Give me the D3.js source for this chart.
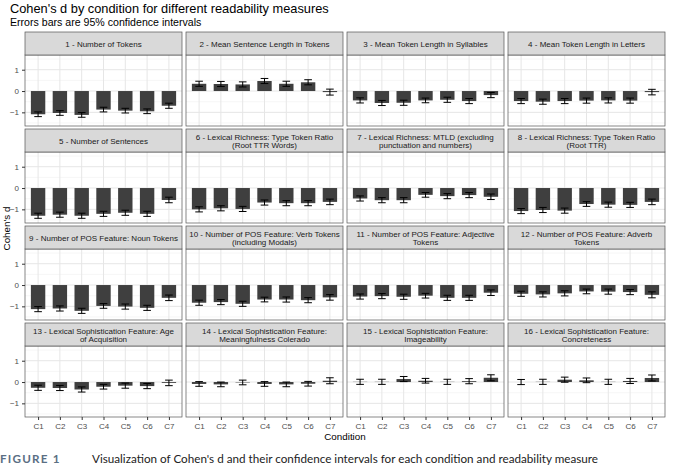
<!DOCTYPE html>
<html>
<head>
<meta charset="utf-8">
<script src="https://cdn.jsdelivr.net/npm/d3@7"></script>
<style>
  body { margin: 0; background: #fff; }
  svg { display: block; font-family: "Liberation Sans", Arial, sans-serif; }
</style>
</head>
<body>
<svg id="chart"></svg>
<script>
const width = 686;
const height = 467;

const conditions = ["C1", "C2", "C3", "C4", "C5", "C6", "C7"];

const measures = [
  ["1 - Number of Tokens"],
  ["2 - Mean Sentence Length in Tokens"],
  ["3 - Mean Token Length in Syllables"],
  ["4 - Mean Token Length in Letters"],
  ["5 - Number of Sentences"],
  ["6 - Lexical Richness: Type Token Ratio", "(Root TTR Words)"],
  ["7 - Lexical Richness: MTLD (excluding", "punctuation and numbers)"],
  ["8 - Lexical Richness: Type Token Ratio", "(Root TTR)"],
  ["9 - Number of POS Feature: Noun Tokens"],
  ["10 - Number of POS Feature: Verb Tokens", "(including Modals)"],
  ["11 - Number of POS Feature: Adjective", "Tokens"],
  ["12 - Number of POS Feature: Adverb", "Tokens"],
  ["13 - Lexical Sophistication Feature: Age", "of Acquisition"],
  ["14 - Lexical Sophistication Feature:", "Meaningfulness Colerado"],
  ["15 - Lexical Sophistication Feature:", "Imageability"],
  ["16 - Lexical Sophistication Feature:", "Concreteness"]
];

// Cohen's d per measure, C1..C7
const cohensD = [
  [-1.09, -1.03, -1.12, -0.87, -0.92, -0.95, -0.69],
  [0.34, 0.33, 0.31, 0.47, 0.34, 0.41, -0.05],
  [-0.44, -0.56, -0.55, -0.44, -0.41, -0.47, -0.19],
  [-0.47, -0.50, -0.47, -0.45, -0.44, -0.45, -0.05],
  [-1.30, -1.25, -1.30, -1.21, -1.16, -1.21, -0.56],
  [-1.00, -0.95, -0.98, -0.68, -0.71, -0.71, -0.65],
  [-0.49, -0.57, -0.57, -0.32, -0.38, -0.33, -0.41],
  [-1.08, -1.03, -1.06, -0.75, -0.78, -0.79, -0.65],
  [-1.13, -1.10, -1.21, -0.98, -1.01, -1.07, -0.60],
  [-0.83, -0.80, -0.88, -0.68, -0.68, -0.71, -0.58],
  [-0.54, -0.52, -0.55, -0.50, -0.60, -0.60, -0.36],
  [-0.41, -0.44, -0.39, -0.30, -0.31, -0.33, -0.46],
  [-0.27, -0.28, -0.35, -0.22, -0.17, -0.19, -0.04],
  [-0.09, -0.11, -0.02, -0.09, -0.11, -0.08, 0.06],
  [0.01, 0.01, 0.14, 0.06, 0.01, 0.04, 0.20],
  [0.00, 0.01, 0.11, 0.08, 0.01, 0.05, 0.19]
];

// half width of the 95% confidence interval
const ciHalf = [
  [0.11, 0.11, 0.11, 0.11, 0.11, 0.11, 0.12],
  [0.12, 0.12, 0.12, 0.12, 0.12, 0.12, 0.14],
  [0.12, 0.12, 0.12, 0.11, 0.12, 0.12, 0.12],
  [0.12, 0.12, 0.12, 0.12, 0.12, 0.12, 0.13],
  [0.12, 0.12, 0.12, 0.12, 0.12, 0.12, 0.13],
  [0.12, 0.12, 0.12, 0.12, 0.12, 0.12, 0.13],
  [0.12, 0.12, 0.12, 0.11, 0.12, 0.12, 0.13],
  [0.12, 0.12, 0.12, 0.11, 0.12, 0.12, 0.13],
  [0.12, 0.12, 0.12, 0.11, 0.12, 0.12, 0.13],
  [0.12, 0.12, 0.12, 0.11, 0.12, 0.12, 0.13],
  [0.12, 0.12, 0.12, 0.11, 0.12, 0.12, 0.13],
  [0.12, 0.12, 0.12, 0.11, 0.12, 0.12, 0.14],
  [0.12, 0.12, 0.12, 0.11, 0.12, 0.12, 0.13],
  [0.11, 0.11, 0.11, 0.11, 0.11, 0.11, 0.14],
  [0.12, 0.12, 0.12, 0.11, 0.12, 0.12, 0.14],
  [0.12, 0.12, 0.12, 0.11, 0.12, 0.12, 0.14]
];

const yTicks = [-1, 0, 1];
const yMinor = [-1.5, -0.5, 0.5, 1.5];

const svg = d3.select("#chart").attr("width", width).attr("height", height);

const leftX = 25, panelW = 157, colGap = 4;
const topY = 32, stripH = 23, panelH = 71, rowGap = 3;
const nCols = 4;

const x = d3.scalePoint().domain(conditions).range([0, panelW]).padding(0.6);
const step = x.step();
const y = d3.scaleLinear().domain([-1.64, 1.69]).range([panelH, 0]);

// titles
svg.append("text").attr("x", 10).attr("y", 13)
  .attr("font-size", 12.8).attr("fill", "#000")
  .text("Cohen's d by condition for different readability measures");
svg.append("text").attr("x", 10).attr("y", 25.5)
  .attr("font-size", 10.6).attr("fill", "#000")
  .text("Errors bars are 95% confidence intervals");

measures.forEach((title, i) => {
  const col = i % nCols, row = Math.floor(i / nCols);
  const px = leftX + col * (panelW + colGap);
  const sy = topY + row * (stripH + panelH + rowGap);
  const g = svg.append("g").attr("transform", `translate(${px},${sy + stripH})`);

  // strip
  svg.append("rect").attr("x", px).attr("y", sy)
    .attr("width", panelW).attr("height", stripH)
    .attr("fill", "#d9d9d9").attr("stroke", "#555").attr("stroke-width", 0.7);
  const st = svg.append("text").attr("text-anchor", "middle")
    .attr("font-size", 8).attr("fill", "#1a1a1a");
  const y0 = title.length === 1 ? sy + stripH / 2 + 3 : sy + stripH / 2 - 1;
  title.forEach((line, k) => {
    st.append("tspan").attr("x", px + panelW / 2).attr("y", y0 + k * 8.5).text(line);
  });

  // grid
  g.selectAll(".minor").data(yMinor).enter().append("line")
    .attr("x1", 0).attr("x2", panelW)
    .attr("y1", (d) => y(d)).attr("y2", (d) => y(d))
    .attr("stroke", "#f0f0f0").attr("stroke-width", 0.6);
  g.selectAll(".major").data(yTicks).enter().append("line")
    .attr("x1", 0).attr("x2", panelW)
    .attr("y1", (d) => y(d)).attr("y2", (d) => y(d))
    .attr("stroke", "#e6e6e6").attr("stroke-width", 1);
  g.selectAll(".vgrid").data(conditions).enter().append("line")
    .attr("x1", (d) => x(d)).attr("x2", (d) => x(d))
    .attr("y1", 0).attr("y2", panelH)
    .attr("stroke", "#e6e6e6").attr("stroke-width", 1);

  const data = conditions.map((c, j) => ({ c, d: cohensD[i][j], h: ciHalf[i][j] }));
  const bw = step * 0.66;
  const capW = step * 0.35;

  g.selectAll(".bar").data(data).enter().append("rect")
    .attr("x", (d) => x(d.c) - bw / 2)
    .attr("y", (d) => y(Math.max(0, d.d)))
    .attr("width", bw)
    .attr("height", (d) => Math.abs(y(d.d) - y(0)))
    .attr("fill", "#3f3f3f");

  const eb = g.selectAll(".err").data(data).enter().append("g")
    .attr("stroke", "#000").attr("stroke-width", 1);
  eb.append("line")
    .attr("x1", (d) => x(d.c)).attr("x2", (d) => x(d.c))
    .attr("y1", (d) => y(d.d - d.h)).attr("y2", (d) => y(d.d + d.h));
  eb.append("line")
    .attr("x1", (d) => x(d.c) - capW / 2).attr("x2", (d) => x(d.c) + capW / 2)
    .attr("y1", (d) => y(d.d - d.h)).attr("y2", (d) => y(d.d - d.h));
  eb.append("line")
    .attr("x1", (d) => x(d.c) - capW / 2).attr("x2", (d) => x(d.c) + capW / 2)
    .attr("y1", (d) => y(d.d + d.h)).attr("y2", (d) => y(d.d + d.h));

  // border
  g.append("rect").attr("width", panelW).attr("height", panelH)
    .attr("fill", "none").attr("stroke", "#555").attr("stroke-width", 0.7);

  if (col === 0) {
    const ay = g.append("g").call(d3.axisLeft(y).tickValues(yTicks).tickSize(3).tickFormat(d3.format("d")));
    ay.select(".domain").remove();
    ay.selectAll("line").attr("stroke", "#333");
    ay.selectAll("text").attr("fill", "#4d4d4d").attr("font-size", 8)
      .attr("font-family", "Liberation Sans, Arial, sans-serif");
  }
  if (row === 3) {
    const ax = g.append("g").attr("transform", `translate(0,${panelH})`)
      .call(d3.axisBottom(x).tickSize(3));
    ax.select(".domain").remove();
    ax.selectAll("line").attr("stroke", "#333");
    ax.selectAll("text").attr("fill", "#4d4d4d").attr("font-size", 8)
      .attr("font-family", "Liberation Sans, Arial, sans-serif");
  }
});

const panelsBottom = topY + 4 * (stripH + panelH) + 3 * rowGap;
const panelsRight = leftX + nCols * panelW + (nCols - 1) * colGap;

svg.append("text").attr("x", (leftX + panelsRight) / 2).attr("y", panelsBottom + 23)
  .attr("text-anchor", "middle").attr("font-size", 9.8).text("Condition");
svg.append("text")
  .attr("transform", `translate(9.5,${(topY + panelsBottom) / 2 + 4}) rotate(-90)`)
  .attr("text-anchor", "middle").attr("font-size", 9.8).text("Cohen's d");

// figure caption
const caption = svg.append("text").attr("x", 0).attr("y", 463)
  .attr("font-family", "Lato, 'Open Sans', sans-serif").attr("font-size", 11.7);
caption.append("tspan").attr("font-weight", "bold").attr("letter-spacing", 1.2)
  .attr("fill", "#5b6f84").text("FIGURE 1");
caption.append("tspan").attr("x", 92).attr("fill", "#222")
  .text("Visualization of Cohen's d and their confidence intervals for each condition and readability measure");
</script>
</body>
</html>
